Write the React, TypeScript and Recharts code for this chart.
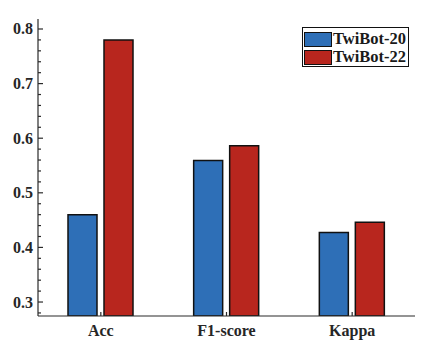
import { Bar, BarChart, Legend, XAxis, YAxis } from "recharts";

const metrics = ["Acc", "F1-score", "Kappa"];
const twibot20 = [0.46, 0.559, 0.4275];
const twibot22 = [0.78, 0.586, 0.446];
const yTicks = [
  0.28, 0.3, 0.32, 0.34, 0.36, 0.38, 0.4, 0.42, 0.44, 0.46, 0.48, 0.5, 0.52, 0.54,
  0.56, 0.58, 0.6, 0.62, 0.64, 0.66, 0.68, 0.7, 0.72, 0.74, 0.76, 0.78, 0.8,
];
const yLabels = [0.3, 0.4, 0.5, 0.6, 0.7, 0.8];

const data = metrics.map((m, i) => ({ name: m, t20: twibot20[i], t22: twibot22[i] }));

const FONT = "'Liberation Serif', 'Times New Roman', serif";
const BLUE = "#2E6FB7";
const RED = "#B8261E";
const AXIS = "#2a2a2a";

const isMajor = (v: number) => yLabels.some((l) => Math.abs(l - v) < 1e-6);

// ticks point inward; labels stay outside
const leftTick = (p: any) => {
  const { x, y, payload } = p;
  const major = isMajor(payload.value);
  return (
    <g key={`l${payload.value}`}>
      <line x1={x} x2={x + (major ? 5 : 3)} y1={y} y2={y} stroke={AXIS} strokeWidth={1.2} />
      {major && (
        <text x={x - 5} y={y + 5.5} textAnchor="end" fontFamily={FONT} fontWeight="bold" fontSize={16} fill="#262626">
          {payload.value.toFixed(1)}
        </text>
      )}
    </g>
  );
};

const rightTick = (p: any) => {
  const { x, y, payload } = p;
  const major = isMajor(payload.value);
  return (
    <line key={`r${payload.value}`} x1={x} x2={x - (major ? 5 : 3)} y1={y} y2={y} stroke={AXIS} strokeWidth={1.2} />
  );
};

const bottomTick = (p: any) => {
  const { x, y, payload } = p;
  return (
    <g key={`b${payload.value}`}>
      <line x1={x} x2={x} y1={y} y2={y - 4} stroke={AXIS} strokeWidth={1.2} />
      <text x={x} y={y + 20} textAnchor="middle" fontFamily={FONT} fontWeight="bold" fontSize={16} fill="#262626">
        {payload.value}
      </text>
    </g>
  );
};

const topTick = (p: any) => {
  const { x, y, payload } = p;
  return <line key={`t${payload.value}`} x1={x} x2={x} y1={y} y2={y + 4} stroke={AXIS} strokeWidth={1.2} />;
};

function LegendBox() {
  const rows = [
    { label: "TwiBot-20", color: BLUE },
    { label: "TwiBot-22", color: RED },
  ];
  return (
    <div
      style={{
        border: "1px solid #111",
        background: "#fff",
        width: 107,
        height: 40,
        padding: "2px 0 0 1px",
        boxSizing: "border-box",
      }}
    >
      {rows.map((r) => (
        <div key={r.label} style={{ display: "flex", alignItems: "center", height: 18 }}>
          <div
            style={{
              width: 28,
              height: 15,
              background: r.color,
              border: "1.5px solid #111",
              boxSizing: "border-box",
            }}
          />
          <span
            style={{
              fontFamily: FONT,
              fontWeight: "bold",
              fontSize: 16.5,
              color: "#1a1a1a",
              marginLeft: 1,
              lineHeight: "18px",
            }}
          >
            {r.label}
          </span>
        </div>
      ))}
    </div>
  );
}

export default function App() {
  return (
    <div style={{ position: "absolute", left: 0, top: 0, width: 436, height: 358, background: "#fff" }}>
      <BarChart
        width={436}
        height={358}
        data={data}
        margin={{ top: 19, right: 21, left: 0, bottom: 0 }}
        barSize={29}
        barGap={7}
      >
        <XAxis
          dataKey="name"
          height={42}
          axisLine={{ stroke: AXIS, strokeWidth: 1.2 }}
          tickLine={false}
          tickSize={0}
          tickMargin={0}
          tick={bottomTick}
          interval={0}
        />
        <XAxis
          xAxisId="top"
          dataKey="name"
          orientation="top"
          height={0}
          axisLine={{ stroke: AXIS, strokeWidth: 1.2 }}
          tickLine={false}
          tickSize={0}
          tickMargin={0}
          tick={topTick}
          interval={0}
        />
        <YAxis
          width={38}
          domain={[0.2744, 0.8183]}
          allowDataOverflow
          ticks={yTicks}
          interval={0}
          axisLine={{ stroke: AXIS, strokeWidth: 1.2 }}
          tickLine={false}
          tickSize={0}
          tickMargin={0}
          tick={leftTick}
        />
        <YAxis
          yAxisId="right"
          orientation="right"
          width={0}
          domain={[0.2744, 0.8183]}
          allowDataOverflow
          ticks={yTicks}
          interval={0}
          axisLine={{ stroke: AXIS, strokeWidth: 1.2 }}
          tickLine={false}
          tickSize={0}
          tickMargin={0}
          tick={rightTick}
        />
        <Legend
          layout="vertical"
          align="center"
          verticalAlign="middle"
          content={<LegendBox />}
          wrapperStyle={{ left: 302, top: 27, width: 107, height: 40 }}
        />
        <Bar dataKey="t20" name="TwiBot-20" fill={BLUE} stroke="#111" strokeWidth={1.5} isAnimationActive={false} />
        <Bar dataKey="t22" name="TwiBot-22" fill={RED} stroke="#111" strokeWidth={1.5} isAnimationActive={false} />
      </BarChart>
    </div>
  );
}
